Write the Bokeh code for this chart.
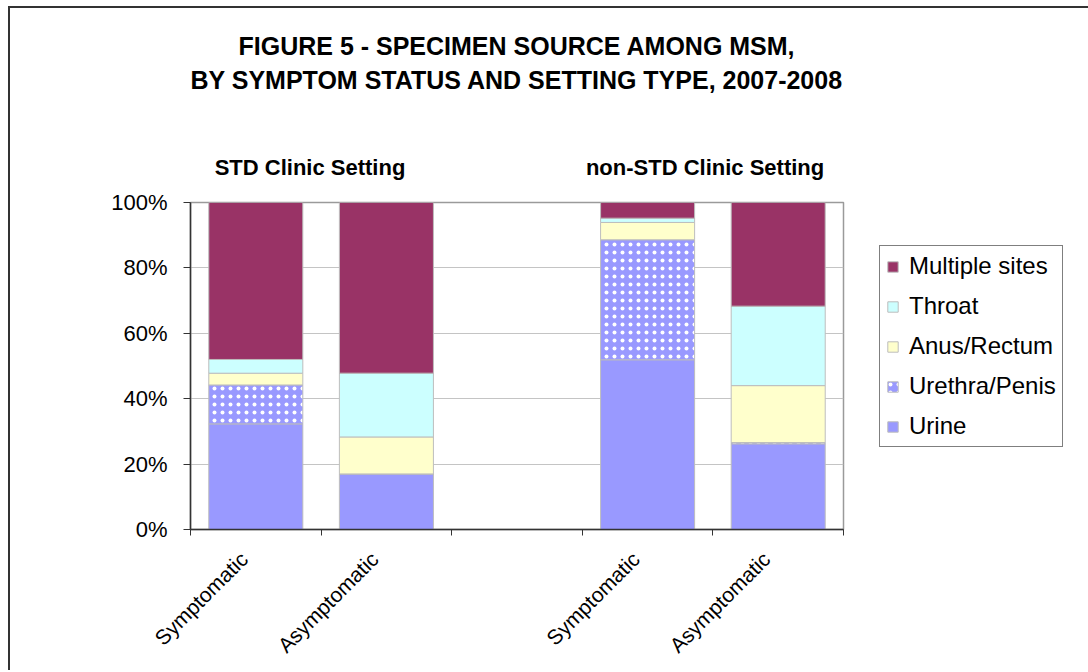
from math import pi
from bokeh.plotting import figure
from bokeh.models import (Range1d, FixedTicker, Legend, LegendItem,
                          LinearAxis, ColumnDataSource, NumeralTickFormatter)
from bokeh.embed import file_html
from bokeh.resources import INLINE

# ---------------- data ----------------
title_lines = ["FIGURE 5 - SPECIMEN SOURCE AMONG MSM,",
               "BY SYMPTOM STATUS AND SETTING TYPE, 2007-2008"]
groups = ["STD Clinic Setting", "non-STD Clinic Setting"]
status = ["Symptomatic", "Asymptomatic", "Symptomatic", "Asymptomatic"]
series = ["Urine", "Urethra/Penis", "Anus/Rectum", "Throat", "Multiple sites"]
urine = [32.3, 17.0, 51.9, 26.2]
urethra = [11.9, 0.0, 36.7, 0.4]
anus = [3.6, 11.3, 5.3, 17.4]
throat = [4.2, 19.5, 1.3, 24.3]
multiple = [48.0, 52.2, 4.8, 31.7]
y_ticks = [0, 0.2, 0.4, 0.6, 0.8, 1.0]

# ---------------- layout helpers ----------------
slots = [0, 1, 3, 4]           # category slots (slot 2 is the empty gap)
xs = [s + 0.5 for s in slots]
group_pos = [0.915, 3.94]      # label positions of the two settings
title_pos = 2.5                # title centred over the plot area
colors = ["#9999FF", "#9999FF", "#FFFFCC", "#CCFFFF", "#993366"]
hatches = [" ", ".", " ", " ", " "]
FONT = "Liberation Sans"

data = {"x": xs}
for name, vals in zip(series, [urine, urethra, anus, throat, multiple]):
    data[name] = [v / 100.0 for v in vals]
src = ColumnDataSource(data)

p = figure(frame_width=653, frame_height=327,
           output_backend="svg", toolbar_location=None,
           x_range=Range1d(0, 5), y_range=Range1d(0, 1),
           title_location=None,
           min_border_left=180, min_border_right=20,
           min_border_top=194, min_border_bottom=141)
p.styles = {"margin-left": "8px", "margin-top": "6px",
            "border-left": "2px solid #333333", "border-top": "2px solid #333333"}
p.background_fill_color = "white"
p.border_fill_color = "white"
p.outline_line_color = "#9a9a9a"
p.outline_line_width = 1.5

renderers = p.vbar_stack(series, x="x", width=0.72, source=src,
                         fill_color=colors, line_color="#bdbdbd", line_width=1,
                         hatch_pattern=hatches, hatch_color="white",
                         hatch_scale=8, hatch_weight=1.5)

# ---- x axis: ticks at slot boundaries, no labels ----
p.xaxis.ticker = FixedTicker(ticks=[0, 1, 2, 3, 4, 5])
p.xaxis.major_label_text_font_size = "0px"
p.xaxis.major_label_standoff = 0
p.xaxis.axis_line_color = "#333333"
p.xaxis.axis_line_width = 1.5
p.xaxis.major_tick_line_color = "#333333"
p.xaxis.major_tick_out = 6
p.xaxis.major_tick_in = 0
p.xaxis.minor_tick_line_color = None

# ---- second bottom axis with rotated status labels ----
lab_ticks = [x - 0.09 for x in xs]
status_axis = LinearAxis(ticker=FixedTicker(ticks=lab_ticks),
                         major_label_overrides={t: s for t, s in zip(lab_ticks, status)},
                         major_label_orientation=pi / 4,
                         major_label_text_font=FONT,
                         major_label_text_font_size="21px",
                         major_label_text_color="black",
                         major_label_standoff=14,
                         axis_line_color=None, major_tick_line_color=None,
                         minor_tick_line_color=None)
p.add_layout(status_axis, "below")


def text_axis(positions, texts, size, standoff):
    """An 'above' axis that only carries text labels (no line, no ticks)."""
    return LinearAxis(ticker=FixedTicker(ticks=positions),
                      major_label_overrides={t: s for t, s in zip(positions, texts)},
                      major_label_text_font=FONT,
                      major_label_text_font_size=size,
                      major_label_text_font_style="bold",
                      major_label_text_color="black",
                      major_label_standoff=standoff,
                      major_tick_out=0, major_tick_in=0,
                      axis_line_color=None, major_tick_line_color=None,
                      minor_tick_line_color=None)


# ---- setting group labels (nearest the plot) ----
p.add_layout(text_axis(group_pos, groups, "22px", 23), "above")
# ---- title line 2, then line 1 (outermost) ----
p.add_layout(text_axis([title_pos], [title_lines[1]], "25px", 58), "above")
p.add_layout(text_axis([title_pos], [title_lines[0]], "25px", 3), "above")

# ---- y axis ----
p.yaxis.ticker = FixedTicker(ticks=y_ticks)
p.yaxis.formatter = NumeralTickFormatter(format="0%")
p.yaxis.major_label_text_font = FONT
p.yaxis.major_label_text_font_size = "22px"
p.yaxis.major_label_text_color = "black"
p.yaxis.axis_line_color = "#333333"
p.yaxis.axis_line_width = 1.5
p.yaxis.major_tick_line_color = "#333333"
p.yaxis.major_tick_out = 7
p.yaxis.major_tick_in = 0
p.yaxis.minor_tick_line_color = None
p.yaxis.major_label_standoff = 16

p.xgrid.grid_line_color = None
p.ygrid.ticker = FixedTicker(ticks=y_ticks)
p.ygrid.grid_line_color = "#c4c4c4"
p.ygrid.grid_line_width = 1.2

# ---- legend (reverse order: Multiple sites on top) ----
items = [LegendItem(label=n, renderers=[r]) for n, r in zip(series, renderers)][::-1]
legend = Legend(items=items, location=(36, 82),
                label_text_font=FONT, label_text_font_size="24px",
                label_text_color="black",
                glyph_width=13, glyph_height=13, label_height=26,
                label_standoff=10, spacing=12, padding=6, margin=0,
                border_line_color="black", border_line_width=1,
                background_fill_color="white", background_fill_alpha=1.0)
p.add_layout(legend, "right")

open("out.html", "w").write(file_html(p, INLINE))
